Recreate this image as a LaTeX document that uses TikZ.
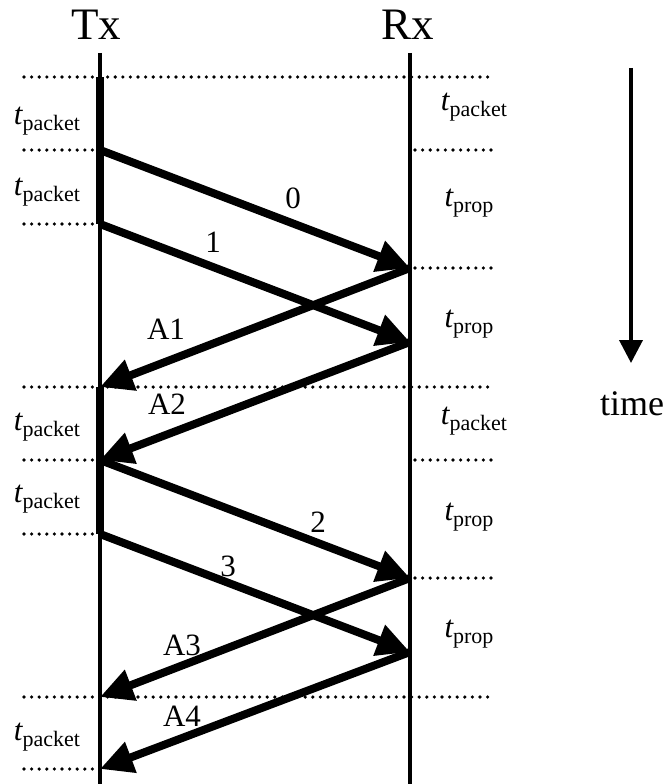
\documentclass[tikz,border=0pt]{standalone}
\usepackage{fontspec}
\setmainfont{Liberation Serif}
\usetikzlibrary{arrows.meta}
\newcommand{\tsubx}[1]{{\fontsize{31}{31}\selectfont\itshape t}\raisebox{-6pt}{\fontsize{22}{22}\selectfont #1}}
\begin{document}
\begin{tikzpicture}[x=1pt,y=-1pt,
  lane/.style={line width=3.6pt},
  busy/.style={line width=8pt},
  msg/.style={line width=8pt,-{Triangle[length=33pt,width=31pt]}},
  dotline/.style={line width=3.6pt,dash pattern=on 0pt off 7.6pt,line cap=round},
  lbl/.style={font=\fontsize{31}{31}\selectfont,inner sep=0pt},
  tlbl/.style={inner sep=0pt},
  head/.style={font=\fontsize{45}{45}\selectfont,inner sep=0pt,anchor=base}]
\useasboundingbox (0,0) rectangle (666,784);

% dotted time markers
\draw[dotline] (24,77) -- (492,77);
\draw[dotline] (24,150) -- (95,150);
\draw[dotline] (415,150) -- (492,150);
\draw[dotline] (24,224) -- (95,224);
\draw[dotline] (415,268) -- (492,268);
\draw[dotline] (24,387) -- (492,387);
\draw[dotline] (24,460) -- (95,460);
\draw[dotline] (415,460) -- (492,460);
\draw[dotline] (24,534) -- (95,534);
\draw[dotline] (415,578) -- (492,578);
\draw[dotline] (24,697) -- (492,697);
\draw[dotline] (24,769) -- (95,769);

% headings
\node[head] (tx) at (96,40) {Tx};
\node[head] (rx) at (408,40) {Rx};

% lanes
\coordinate (txtop) at (100,53);
\coordinate (txbot) at (100,784);
\coordinate (rxtop) at (410,53);
\coordinate (rxbot) at (410,784);
\draw[lane] (txtop) -- (txbot);
\draw[lane] (rxtop) -- (rxbot);

% events on Tx
\coordinate (t0) at (100,77);
\coordinate (t1) at (100,150);
\coordinate (t2) at (100,224);
\coordinate (t3) at (100,387);
\coordinate (t4) at (100,460);
\coordinate (t5) at (100,534);
\coordinate (t6) at (100,697);
\coordinate (t7) at (100,769);
% events on Rx
\coordinate (r1) at (410,268);
\coordinate (r2) at (410,342);
\coordinate (r3) at (410,578);
\coordinate (r4) at (410,652);

% busy periods
\draw[busy] (t0) -- (t2);
\draw[busy] (t3) -- (t5);

% messages
\draw[msg] (t1) -- (r1);
\draw[msg] (t2) -- (r2);
\draw[msg] (r1) -- (t3);
\draw[msg] (r2) -- (t4);
\draw[msg] (t4) -- (r3);
\draw[msg] (t5) -- (r4);
\draw[msg] (r3) -- (t6);
\draw[msg] (r4) -- (t7);

% message labels
\node[lbl] (l0) at (293,198) {0};
\node[lbl] (l1) at (213,242) {1};
\node[lbl] (la1) at (166,329) {A1};
\node[lbl] (la2) at (167,404) {A2};
\node[lbl] (l2) at (318,522) {2};
\node[lbl] (l3) at (228,566) {3};
\node[lbl] (la3) at (182,645) {A3};
\node[lbl] (la4) at (182,716) {A4};

% interval labels, left
\node[tlbl] (p1) at (47,121) {\tsubx{packet}};
\node[tlbl] (p2) at (47,192) {\tsubx{packet}};
\node[tlbl] (p3) at (47,427) {\tsubx{packet}};
\node[tlbl] (p4) at (47,499) {\tsubx{packet}};
\node[tlbl] (p5) at (47,737) {\tsubx{packet}};
% interval labels, right
\node[tlbl] (q1) at (474,107) {\tsubx{packet}};
\node[tlbl] (q2) at (469,203) {\tsubx{prop}};
\node[tlbl] (q3) at (469,324) {\tsubx{prop}};
\node[tlbl] (q4) at (474,421) {\tsubx{packet}};
\node[tlbl] (q5) at (469,517) {\tsubx{prop}};
\node[tlbl] (q6) at (469,634) {\tsubx{prop}};

% time axis
\coordinate (ttop) at (631,68);
\coordinate (tbot) at (631,363);
\draw[line width=3.8pt,-{Triangle[length=23pt,width=23pt]}] (ttop) -- (tbot);
\node[inner sep=0pt,font=\fontsize{36}{36}\selectfont] (time) at (632,404) {time};
\end{tikzpicture}
\end{document}
